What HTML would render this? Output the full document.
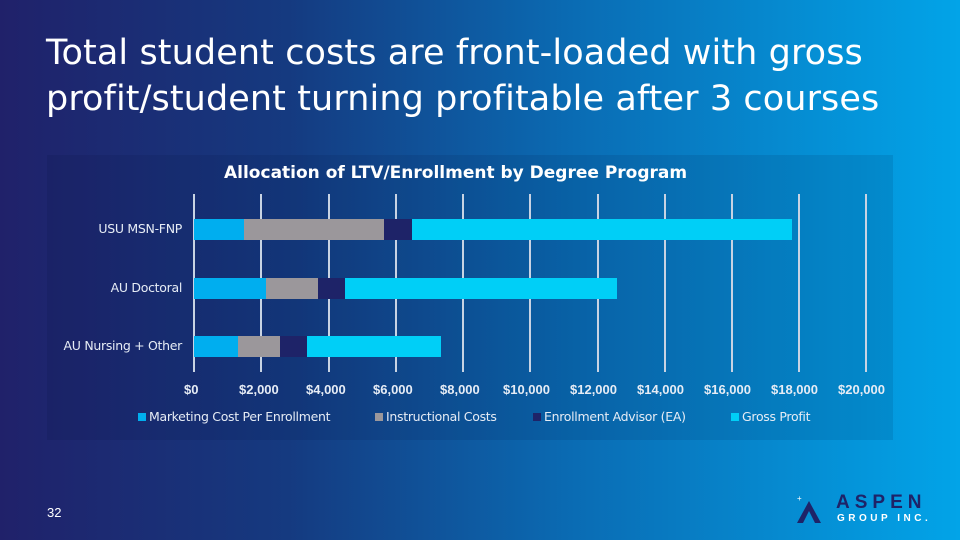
<!DOCTYPE html>
<html><head><meta charset="utf-8"><style>
body{margin:0}
#s{position:relative;width:960px;height:540px;overflow:hidden;background:linear-gradient(90deg,#20216a 0%,#153a80 30%,#0a6cb4 60%,#02a4e8 100%);font-family:"Liberation Sans",sans-serif;color:#fff}
h1{position:absolute;left:46px;top:30px;margin:0;font-weight:normal;font-size:35px;line-height:46px;font-family:"DejaVu Sans","Liberation Sans",sans-serif;letter-spacing:0.1px}
#p{position:absolute;left:47px;top:155px;width:846px;height:285px;background:rgba(0,10,50,0.1)}
.t{position:absolute;font-size:13px;font-weight:bold;color:#e6ecf5}
.l{position:absolute;font-size:12.5px;color:#e6ecf5;font-family:"DejaVu Sans",sans-serif;letter-spacing:-0.3px}
.g{position:absolute;top:194px;width:2px;height:178px;background:#c8d3e3}
.b{position:absolute;height:21px}
</style></head><body><div id="s">
<h1>Total student costs are front-loaded with gross<br>profit/student turning profitable after 3 courses</h1>
<div id="p"></div>
<div style="position:absolute;left:224px;top:163px;font-size:17px;font-weight:bold;font-family:'DejaVu Sans',sans-serif">Allocation of LTV/Enrollment by Degree Program</div>
<div class="g" style="left:193px"></div><div class="g" style="left:260px"></div><div class="g" style="left:328px"></div><div class="g" style="left:395px"></div><div class="g" style="left:462px"></div><div class="g" style="left:529px"></div><div class="g" style="left:597px"></div><div class="g" style="left:664px"></div><div class="g" style="left:731px"></div><div class="g" style="left:798px"></div><div class="g" style="left:865px"></div>
<div class="l" style="right:778px;top:221px">USU MSN-FNP</div>
<div class="l" style="right:778px;top:280px">AU Doctoral</div>
<div class="l" style="right:778px;top:338px">AU Nursing + Other</div>
<div class="b" style="left:194px;top:219px;width:50px;background:#00aeef"></div><div class="b" style="left:244px;top:219px;width:140px;background:#9b979b"></div><div class="b" style="left:384px;top:219px;width:28px;background:#1e2368"></div><div class="b" style="left:412px;top:219px;width:380px;background:#00cff7"></div>
<div class="b" style="left:194px;top:278px;width:72px;background:#00aeef"></div><div class="b" style="left:266px;top:278px;width:52px;background:#9b979b"></div><div class="b" style="left:318px;top:278px;width:27px;background:#1e2368"></div><div class="b" style="left:345px;top:278px;width:272px;background:#00cff7"></div>
<div class="b" style="left:194px;top:336px;width:44px;background:#00aeef"></div><div class="b" style="left:238px;top:336px;width:42px;background:#9b979b"></div><div class="b" style="left:280px;top:336px;width:27px;background:#1e2368"></div><div class="b" style="left:307px;top:336px;width:134px;background:#00cff7"></div>
<div class="t" style="left:184px;top:382px">$0</div><div class="t" style="left:239px;top:382px">$2,000</div><div class="t" style="left:306px;top:382px">$4,000</div><div class="t" style="left:373px;top:382px">$6,000</div><div class="t" style="left:440px;top:382px">$8,000</div><div class="t" style="left:503px;top:382px">$10,000</div><div class="t" style="left:570px;top:382px">$12,000</div><div class="t" style="left:637px;top:382px">$14,000</div><div class="t" style="left:704px;top:382px">$16,000</div><div class="t" style="left:771px;top:382px">$18,000</div><div class="t" style="left:838px;top:382px">$20,000</div>
<div class="l" style="left:138px;top:409px"><span style="display:inline-block;width:8px;height:8px;background:#00aeef;margin-right:3px"></span>Marketing Cost Per Enrollment</div>
<div class="l" style="left:375px;top:409px"><span style="display:inline-block;width:8px;height:8px;background:#9b979b;margin-right:3px"></span>Instructional Costs</div>
<div class="l" style="left:533px;top:409px"><span style="display:inline-block;width:8px;height:8px;background:#1e2368;margin-right:3px"></span>Enrollment Advisor (EA)</div>
<div class="l" style="left:731px;top:409px"><span style="display:inline-block;width:8px;height:8px;background:#00cff7;margin-right:3px"></span>Gross Profit</div>
<div style="position:absolute;left:47px;top:505px;font-size:13px">32</div>
<svg style="position:absolute;left:795px;top:493px" width="30" height="35"><path d="M2 30 L14 8 L26 30 L20 30 L14 18 L8 30Z" fill="#1e2368"/><text x="2" y="8" font-size="8" fill="#fff">+</text></svg>
<div style="position:absolute;left:836px;top:492px;font-size:19px;font-weight:bold;letter-spacing:5px;color:#1e2368">ASPEN</div>
<div style="position:absolute;left:837px;top:513px;font-size:10px;font-weight:bold;letter-spacing:3.5px;color:#fff">GROUP INC.</div>
</div></body></html>
